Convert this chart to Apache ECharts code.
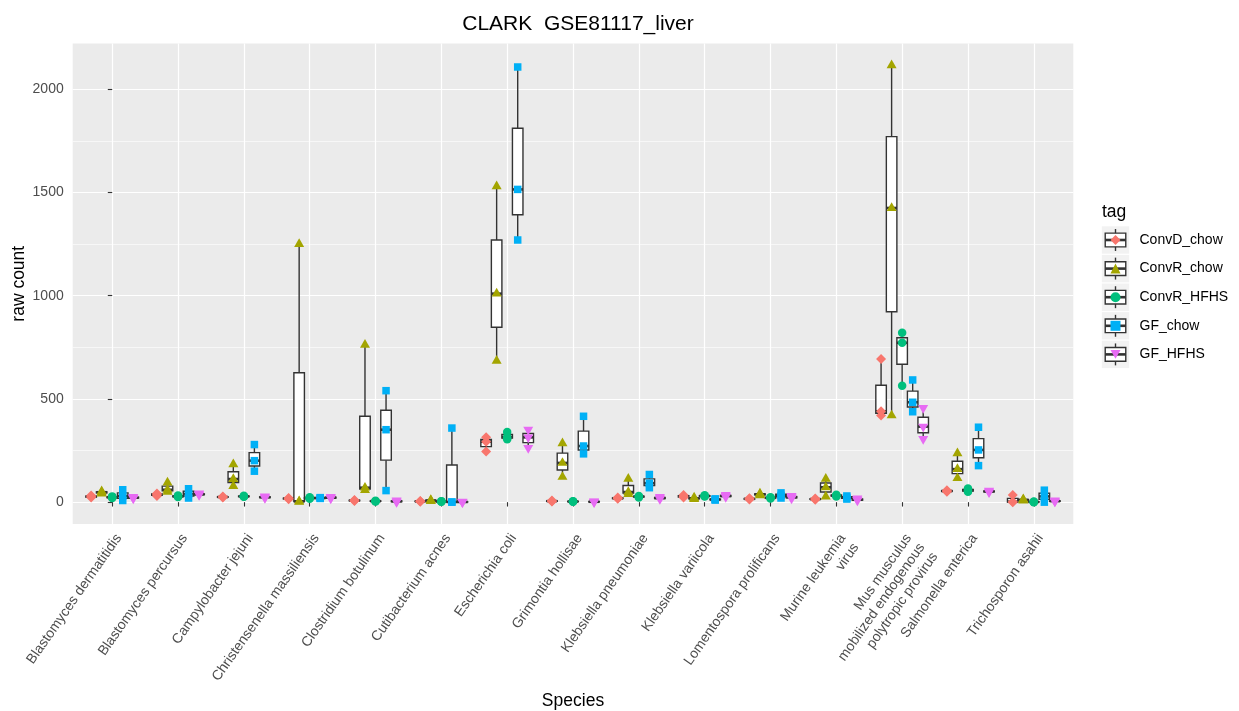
<!DOCTYPE html>
<html><head><meta charset="utf-8">
<script src="https://cdn.jsdelivr.net/npm/echarts@6/dist/echarts.min.js"></script>
<style>html,body{margin:0;padding:0;background:#fff}#c{width:1239px;height:711px}</style>
</head><body><div id="c"></div>
<script>
// ---- data ----
const species = [
  'Blastomyces dermatitidis', 'Blastomyces percursus', 'Campylobacter jejuni',
  'Christensenella massiliensis', 'Clostridium botulinum', 'Cutibacterium acnes',
  'Escherichia coli', 'Grimontia hollisae', 'Klebsiella pneumoniae',
  'Klebsiella variicola', 'Lomentospora prolificans', 'Murine leukemia\nvirus',
  'Mus musculus\nmobilized endogenous\npolytropic provirus', 'Salmonella enterica',
  'Trichosporon asahii'
];
const tags = ['ConvD_chow', 'ConvR_chow', 'ConvR_HFHS', 'GF_chow', 'GF_HFHS'];
const tagColors = ['#F8766D', '#A3A500', '#00BF7D', '#00B0F6', '#E76BF3'];

// raw counts per species (3 samples each)
const ConvD_chow = [[22,27,32],[30,37,42],[22,25,28],[14,18,20],[6,8,10],[2,4,6],[245,293,314],[3,5,8],[16,19,22],[22,28,35],[13,16,19],[12,15,18],[420,440,693],[50,54,58],[0,2,35]];
const ConvR_chow = [[42,48,52],[50,60,95],[78,112,183],[2,4,1250],[58,70,762],[5,8,10],[685,1010,1530],[122,190,285],[39,49,113],[15,18,22],[33,38,42],[27,72,113],[420,1425,2116],[116,160,237],[8,11,14]];
const ConvR_HFHS = [[20,24,28],[25,28,32],[26,28,31],[16,20,24],[3,5,7],[2,3,5],[305,315,340],[2,3,5],[23,27,30],[27,30,33],[18,21,24],[28,32,36],[564,772,821],[50,58,66],[0,1,3]];
const GF_chow = [[8,30,60],[20,40,65],[150,201,279],[18,20,22],[56,351,540],[0,1,359],[1270,1515,2108],[234,272,416],[70,92,134],[10,13,16],[20,32,45],[15,22,30],[438,484,592],[177,253,363],[0,28,58]];
const GF_HFHS = [[18,22,26],[35,38,42],[20,24,28],[18,22,26],[1,4,8],[0,1,2],[263,314,351],[0,2,4],[15,20,25],[25,30,35],[18,24,30],[8,12,18],[306,366,456],[48,52,56],[3,5,8]];

const yTicks = [0, 500, 1000, 1500, 2000];
const yMinorTicks = [250, 750, 1250, 1750];

// ---- build ----
const groups = [ConvD_chow, ConvR_chow, ConvR_HFHS, GF_chow, GF_HFHS];
const DODGE = 0.16, BOXW = 0.16;
const FONT = "'Liberation Sans', Arial, Helvetica, sans-serif";
const LW = 1.4, MLW = 2.6, STROKE = '#333333';
const symbols = [
  {symbol: 'diamond', size: [10, 10], offset: [0, 0]},
  {symbol: 'triangle', size: [10, 8.7], offset: [0, -1.45]},
  {symbol: 'circle', size: 8.5, offset: [0, 0]},
  {symbol: 'rect', size: 7.5, offset: [0, 0]},
  {symbol: 'path://M0,0L10,0L5,8.66Z', size: [10, 8.7], offset: [0, 1.45]}
];

function q7(s, p) {
  const h = (s.length - 1) * p, lo = Math.floor(h), hi = Math.ceil(h);
  return s[lo] + (h - lo) * (s[hi] - s[lo]);
}
function boxStats(vals) {
  const s = vals.slice().sort((a, b) => a - b);
  const q1 = q7(s, 0.25), med = q7(s, 0.5), q3 = q7(s, 0.75), iqr = q3 - q1;
  const lo = Math.min(...s.filter(v => v >= q1 - 1.5 * iqr));
  const hi = Math.max(...s.filter(v => v <= q3 + 1.5 * iqr));
  return [lo, q1, med, q3, hi];
}

const allVals = groups.flat(2);
const dMin = Math.min(...allVals), dMax = Math.max(...allVals);
const yMin = dMin - 0.05 * (dMax - dMin), yMax = dMax + 0.05 * (dMax - dMin);

const series = [];
groups.forEach((g, k) => {
  series.push({
    name: 'box_' + tags[k], type: 'custom', z: 2,
    encode: {x: 0, y: [1, 2, 3, 4, 5]},
    data: g.map((vals, i) => [i + (k - 2) * DODGE].concat(boxStats(vals))),
    renderItem: function (params, api) {
      const x = api.value(0);
      const pLo = api.coord([x, api.value(1)]);
      const pQ1 = api.coord([x, api.value(2)]);
      const pMed = api.coord([x, api.value(3)]);
      const pQ3 = api.coord([x, api.value(4)]);
      const pHi = api.coord([x, api.value(5)]);
      const half = api.size([BOXW, 0])[0] / 2;
      const cx = pMed[0];
      return {type: 'group', children: [
        {type: 'line', shape: {x1: cx, y1: pHi[1], x2: cx, y2: pQ3[1]}, style: {stroke: STROKE, lineWidth: LW}},
        {type: 'line', shape: {x1: cx, y1: pQ1[1], x2: cx, y2: pLo[1]}, style: {stroke: STROKE, lineWidth: LW}},
        {type: 'rect', shape: {x: cx - half, y: pQ3[1], width: 2 * half, height: pQ1[1] - pQ3[1]}, style: {fill: '#ffffff', stroke: STROKE, lineWidth: LW}},
        {type: 'line', shape: {x1: cx - half, y1: pMed[1], x2: cx + half, y2: pMed[1]}, style: {stroke: STROKE, lineWidth: MLW}}
      ]};
    }
  });
});
groups.forEach((g, k) => {
  const pts = [];
  g.forEach((vals, i) => vals.forEach(v => pts.push([i + (k - 2) * DODGE, v])));
  series.push({
    name: tags[k], type: 'scatter', z: 3,
    symbol: symbols[k].symbol, symbolSize: symbols[k].size, symbolOffset: symbols[k].offset,
    itemStyle: {color: tagColors[k], opacity: 1},
    data: pts
  });
});

// legend key glyphs (background + boxplot glyph)
const KEY_X = 1115.5, KEY_Y0 = 240, KEY_STEP = 28.6, KEY = 27.4;
const graphics = [];
tags.forEach((t, k) => {
  const cy = KEY_Y0 + k * KEY_STEP;
  graphics.push({type: 'rect', z: 1, shape: {x: KEY_X - KEY / 2, y: cy - KEY / 2, width: KEY, height: KEY}, style: {fill: '#F2F2F2'}});
  graphics.push({type: 'line', z: 2, shape: {x1: KEY_X, y1: cy - KEY * 0.4, x2: KEY_X, y2: cy + KEY * 0.4}, style: {stroke: STROKE, lineWidth: LW}});
  graphics.push({type: 'rect', z: 2, shape: {x: KEY_X - KEY * 0.375, y: cy - KEY * 0.25, width: KEY * 0.75, height: KEY * 0.5}, style: {fill: '#ffffff', stroke: STROKE, lineWidth: LW}});
  graphics.push({type: 'line', z: 2, shape: {x1: KEY_X - KEY * 0.375, y1: cy, x2: KEY_X + KEY * 0.375, y2: cy}, style: {stroke: STROKE, lineWidth: MLW}});
});

const option = {
  animation: false,
  textStyle: {fontFamily: FONT},
  title: [
    {text: 'CLARK  GSE81117_liver', left: 573, top: 9, textAlign: 'center',
     textStyle: {fontSize: 21, fontWeight: 'normal', color: '#000', fontFamily: FONT}},
    {text: 'tag', left: 1097, top: 198,
     textStyle: {fontSize: 17.5, fontWeight: 'normal', color: '#000', fontFamily: FONT}}
  ],
  grid: {left: 72.7, right: 165.7, top: 43.5, bottom: 187, show: true, backgroundColor: '#EBEBEB', borderWidth: 0,
         containLabel: false, outerBoundsMode: 'none'},
  legend: {
    orient: 'vertical', left: KEY_X - 5, top: KEY_Y0 - 7, padding: 0, itemWidth: 10, itemHeight: 10,
    itemGap: KEY_STEP - 14, selectedMode: false, data: tags, z: 5,
    textStyle: {fontSize: 14, color: '#000', padding: [0, 0, 0, 14], fontFamily: FONT}
  },
  graphic: graphics,
  xAxis: {
    type: 'value', min: -0.6, max: 14.6,
    axisLine: {show: false},
    axisTick: {show: true, customValues: species.map((s, i) => i), length: 4.4, lineStyle: {color: '#333333', width: 1.1}},
    axisLabel: {customValues: species.map((s, i) => i), formatter: v => species[Math.round(v)],
      rotate: 55, align: 'right', verticalAlign: 'top', margin: 7, fontSize: 14, lineHeight: 16, color: '#4D4D4D', fontFamily: FONT},
    splitLine: {show: true, lineStyle: {color: '#ffffff', width: 1.2}},
    name: 'Species', nameLocation: 'middle', nameGap: 168, nameMoveOverlap: false,
    nameTextStyle: {fontSize: 17.5, color: '#000', fontFamily: FONT}
  },
  yAxis: [{
    type: 'value', min: yMin, max: yMax,
    axisLine: {show: false},
    axisTick: {show: true, customValues: yTicks, length: 4.4, lineStyle: {color: '#333333', width: 1.1}},
    axisLabel: {customValues: yTicks, formatter: v => String(v), margin: 9, fontSize: 14, color: '#4D4D4D', fontFamily: FONT},
    splitLine: {show: true, lineStyle: {color: '#ffffff', width: 1.2}},
    name: 'raw count', nameLocation: 'middle', nameGap: 45, nameRotate: 90, nameMoveOverlap: false,
    nameTextStyle: {fontSize: 17.5, color: '#000', fontFamily: FONT}
  }, {
    type: 'value', min: yMin, max: yMax, position: 'left',
    axisLine: {show: false},
    axisTick: {show: false, customValues: yMinorTicks},
    axisLabel: {show: false, customValues: yMinorTicks},
    splitLine: {show: true, lineStyle: {color: '#ffffff', width: 0.6}}
  }],
  series: series
};
echarts.init(document.getElementById('c')).setOption(option);
</script></body></html>
